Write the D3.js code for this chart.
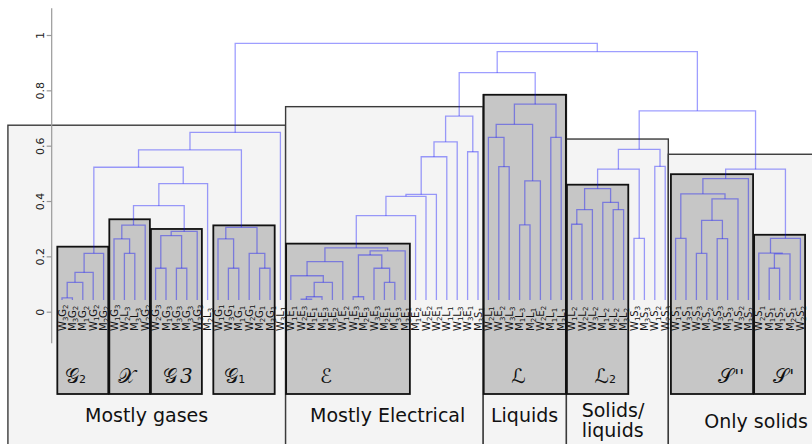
<!DOCTYPE html>
<html><head><meta charset="utf-8">
<script src="https://cdn.jsdelivr.net/npm/d3@7"></script>
<style>
html,body{margin:0;padding:0;background:#fff;}
svg{display:block;}
</style></head><body>
<svg id="chart" width="812" height="444"></svg>
<script>
// ---------------- DATA ----------------
const leaves = [
 "W3G2","M3G2","M1G2","W1G2","M2G2",
 "W1G3","W2L3","M3L3","W2G2",
 "W2G3","M1G3","M3G3","M3G3","W3G3",
 "M2L3",
 "W1G1","W3G1","M1G1","W2G1","M2G1","M3G1",
 "W3L1",
 "W1E1","W2E3","M1E1","M1E3","M3E2","W1E2","W1E3","M2E3","W3E3","M2E1","M3E3","M3E1",
 "M1E2","W2E2","W2E1","W1L1","W1L3","W3E1","M3S1",
 "W2L1","W3E2","W3L3","M1L3","M2L1","W2E2","M1L1","M3L1",
 "W1L2","W2L2","W3L2","M1L2","M2L2","M3L2",
 "W1S3","M3S3","W1S2","W2S3",
 "W1S1","W3S1","W2S3","M2S2","W3S3","M1S3","W3S2","M3S2",
 "W2S1","M1S1","M1S2","M2S1","W2S2"
];
// [node, left, right, height]  (number = leaf index, string = earlier node)
const merges = [
 ["g2a",0,1,0.05],["g2b","g2a",2,0.106],["g2c","g2b",3,0.142],["G2","g2c",4,0.211],
 ["xa",6,7,0.211],["xb",5,"xa",0.263],["X","xb",8,0.313],
 ["g3a",9,10,0.157],["g3b",11,12,0.157],["g3c","g3a","g3b",0.275],["G3","g3c",13,0.29],
 ["g1a",16,17,0.157],["g1b",15,"g1a",0.263],["g1c",19,20,0.157],["g1d",18,"g1c",0.211],["G1","g1b","g1d",0.305],
 ["gD","X","G3",0.383],["gC","gD",14,0.463],["gB","G2","gC",0.522],["gA","gB","G1",0.585],["GAS","gA",21,0.648],
 ["ea",23,24,0.045],["eb","ea",25,0.054],["ec","eb",26,0.106],["ed",22,"ec",0.130],["ee","ed",27,0.181],
 ["ef",28,29,0.054],["eg",31,32,0.106],["eh",30,"eg",0.157],["ei","ef","eh",0.205],["ej","ei",33,0.220],
 ["E","ee","ej",0.231],
 ["e1","E",34,0.347],["e2","e1",35,0.417],["e3","e2",36,0.424],["e4","e3",37,0.560],["e5","e4",38,0.614],
 ["e6",39,40,0.578],["ELEC","e5","e6",0.707],
 ["la",42,43,0.524],["lb",41,"la",0.630],["lc",44,45,0.314],["ld","lc",46,0.473],["le","lb","ld",0.677],
 ["lf",47,48,0.630],["L","le","lf",0.750],["EL","ELEC","L",0.864],
 ["l2a",49,50,0.316],["l2b","l2a",51,0.369],["l2c",53,54,0.369],["l2d",52,"l2c",0.395],["L2","l2b","l2d",0.445],
 ["s3a",55,56,0.265],["SL1","L2","s3a",0.515],["s3b",57,58,0.525],["SL","SL1","s3b",0.587],
 ["sa",59,60,0.265],["sb",61,62,0.211],["sc",63,64,0.264],["sd","sb","sc",0.330],["se","sd",65,0.408],
 ["sf","sa","se",0.426],["S2","sf",66,0.481],
 ["ta",68,69,0.157],["tb","ta",70,0.209],["tc",67,"tb",0.212],["S1","tc",71,0.265],
 ["SOL","S2","S1",0.515],["SS","SL","SOL",0.726],["R","EL","SS",0.940],["ROOT","GAS","R",0.970]
];
const yTicks = [0, 0.2, 0.4, 0.6, 0.8, 1];
const yTickLabels = ["0","0.2","0.4","0.6","0.8","1"];
// light regions: label lines, first leaf, last leaf, top height
const regionNames = [["Mostly gases"],["Mostly Electrical"],["Liquids"],["Solids/","liquids"],["Only solids"]];
const regionFirst = [-5.2, 21.5, 40.5, 48.5, 58.3];
const regionLast  = [21.5, 40.5, 48.5, 58.3, 73];
const regionTop   = [0.674, 0.741, 0.784, 0.624, 0.569];
// clusters (dark boxes): symbol parts, first leaf, last leaf, top height
const clusterSymbols = [
 [["𝒢","s"],["2","n"]], [["𝒳","s"]], [["𝒢","s"],["3","d"]], [["𝒢","s"],["1","n"]],
 [["ℰ","s"]], [["ℒ","s"]], [["ℒ","s"],["2","n"]], [["𝒮","s"],["''","p"]], [["𝒮","s"],["'","p"]]
];
const clusterFirst = [0, 5, 9, 15, 22, 41, 49, 59, 67];
const clusterLast  = [4, 8, 13, 20, 33, 48, 54, 66, 71];
const clusterTop   = [0.235, 0.334, 0.299, 0.312, 0.246, 0.784, 0.459, 0.497, 0.278];

// ---------------- LAYOUT ----------------
const W = 812, H = 444;
const svg = d3.select("#chart");
const x = d3.scaleLinear().domain([0, 71]).range([62, 800.4]);
const y = d3.scaleLinear().domain([0, 1]).range([311.7, 35]);
const leafEnd = 0.042;
const boxBottom = 394;
const pad = 0.45;
const FONT = "DejaVu Sans, Verdana, sans-serif";
const clusterLabelAt = [0.3, 5.4, 9.7, 15.6, 24.8, 43.2, 51.2, 63.1, 68.4];
const regionTextX = [85, 310, 491, 581.7, 704.3];
const regionTextY = [421.7, 421.7, 422, 416.7, 428.3];

// light regions
regionNames.forEach((nm, i) => {
  const x0 = x(regionFirst[i]), x1 = Math.min(x(regionLast[i]), W + 20);
  svg.append("rect").attr("x", x0).attr("y", y(regionTop[i]))
    .attr("width", x1 - x0).attr("height", H + 20 - y(regionTop[i]))
    .attr("fill", "#f4f4f4").attr("stroke", "#3a3a3a").attr("stroke-width", 1.4);
});
// dark cluster boxes
clusterSymbols.forEach((s, i) => {
  const x0 = x(clusterFirst[i] - pad), x1 = x(clusterLast[i] + pad);
  svg.append("rect").attr("x", x0).attr("y", y(clusterTop[i]))
    .attr("width", x1 - x0).attr("height", boxBottom - y(clusterTop[i]))
    .attr("fill", "#c6c6c6").attr("stroke", "#111").attr("stroke-width", 1.8);
});

// build tree
const byName = new Map(merges.map(m => [m[0], m]));
function build(ref) {
  if (typeof ref === "number") return { leaf: ref, h: leafEnd };
  const m = byName.get(ref);
  return { name: m[0], h: m[3], children: [build(m[1]), build(m[2])] };
}
const root = d3.hierarchy(build("ROOT"));
root.eachAfter(n => {
  n.px = n.children ? (n.children[0].px + n.children[1].px) / 2 : x(n.data.leaf);
  n.py = y(n.data.h);
});
const gTree = svg.append("g");
root.descendants().filter(n => n.children).forEach(n => {
  const [a, b] = n.children;
  const p = d3.path();
  p.moveTo(a.px, a.py); p.lineTo(a.px, n.py); p.lineTo(b.px, n.py); p.lineTo(b.px, b.py);
  gTree.append("path").attr("d", p.toString()).attr("fill", "none")
    .attr("stroke", "#0000ff").attr("stroke-opacity", 0.38).attr("stroke-width", 1.3);
});

// leaf labels
leaves.forEach((name, i) => {
  const t = svg.append("text")
    .attr("transform", `translate(${x(i) + 3.6},331) rotate(-90)`)
    .attr("font-family", FONT).attr("font-size", 10).attr("fill", "#111");
  let off = 0;
  for (const ch of name) {
    const isDigit = /\d/.test(ch);
    const want = isDigit ? 2.2 : 0;
    t.append("tspan").attr("dy", want - off).attr("font-size", isDigit ? 7 : 10).text(ch);
    off = want;
  }
});

// cluster symbols
clusterSymbols.forEach((parts, i) => {
  const t = svg.append("text").attr("x", x(clusterLabelAt[i])).attr("y", 383).attr("fill", "#111");
  parts.forEach(([txt, kind]) => {
    const ts = t.append("tspan").text(txt);
    if (kind === "s") ts.attr("font-family", "DejaVu Sans").attr("font-size", 20);
    else if (kind === "n") ts.attr("font-family", FONT).attr("font-size", 11);
    else if (kind === "d") ts.attr("font-family", "DejaVu Serif").attr("font-style", "italic").attr("font-size", 20).attr("dx", 3);
    else ts.attr("font-family", "DejaVu Serif").attr("font-size", 18).attr("dx", 1);
  });
});

// region labels
regionNames.forEach((lines, i) => {
  lines.forEach((ln, k) => {
    svg.append("text").attr("x", regionTextX[i]).attr("y", regionTextY[i] + k * 20)
      .attr("font-family", FONT).attr("font-size", 19).attr("fill", "#111").text(ln);
  });
});

// axis
const axisX = 51.7;
const gAxis = svg.append("g").attr("transform", `translate(${axisX},0)`);
gAxis.append("line").attr("x1", 0).attr("x2", 0).attr("y1", y(-0.114)).attr("y2", y(1.097))
  .attr("stroke", "#999").attr("stroke-width", 1.2);
gAxis.call(d3.axisLeft(y).tickValues(yTicks).tickFormat((d, i) => yTickLabels[i]).tickSize(5))
  .call(g => g.select(".domain").remove())
  .call(g => g.selectAll(".tick line").attr("stroke", "#999").attr("stroke-width", 1.2))
  .call(g => g.selectAll(".tick text").attr("transform", "rotate(-90)")
    .attr("x", 0).attr("y", -8).attr("dy", 0).attr("text-anchor", "middle")
    .attr("font-family", FONT).attr("font-size", 11).attr("fill", "#222"));
</script>
</body></html>
